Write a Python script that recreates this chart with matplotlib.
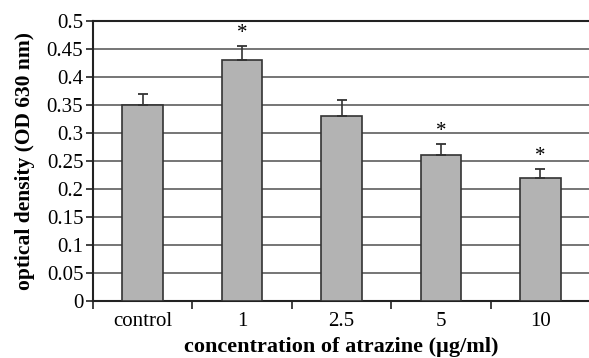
import matplotlib
matplotlib.use("Agg")
import matplotlib.pyplot as plt
import numpy as np

categories = ["control", "1", "2.5", "5", "10"]
values = [0.35, 0.43, 0.33, 0.26, 0.22]
errors = [0.02, 0.025, 0.028, 0.02, 0.015]
significant = [False, True, False, True, True]
yticks = [0, 0.05, 0.1, 0.15, 0.2, 0.25, 0.3, 0.35, 0.4, 0.45, 0.5]
ytick_labels = ["0", "0.05", "0.1", "0.15", "0.2", "0.25", "0.3", "0.35", "0.4", "0.45", "0.5"]

plt.rcParams['font.family'] = ['Liberation Serif', 'DejaVu Serif']

fig = plt.figure(figsize=(5.89, 3.58), dpi=100)
ax = fig.add_axes([93/589, 1 - 301/358, (590 - 93)/589, (301 - 20.7)/358])

x = np.arange(len(categories))
ax.set_axisbelow(True)
ax.yaxis.grid(True, color="#6a6a6a", linewidth=1.3)
ax.bar(x, values, width=0.41, color="#b3b3b3", edgecolor="#333333", linewidth=1.2, zorder=3)
ax.errorbar(x, values, yerr=[np.zeros(len(values)), errors], fmt="none",
            ecolor="#333333", elinewidth=1.2, capsize=3.5, capthick=1.3, zorder=4)
for xi, v, e, s in zip(x, values, errors, significant):
    if s:
        ax.text(xi, v + e + 0.005, "*", ha="center", va="bottom", fontsize=15)

ax.set_xlim(-0.5, 4.5)
ax.set_ylim(0, 0.5)
ax.set_yticks(yticks)
ax.set_yticklabels(ytick_labels, fontsize=15)
ax.set_xticks(x)
ax.set_xticklabels(categories, fontsize=15)
ax.tick_params(axis="x", length=0, pad=8)
ax.set_xticks(np.arange(-0.5, 4.6, 1), minor=True)
ax.tick_params(axis="x", which="minor", length=6, width=1.3, color="#333333", direction="out")
ax.tick_params(axis="y", length=5, width=1.3, color="#333333", direction="out", pad=2)

for side in ["left", "bottom", "top"]:
    ax.spines[side].set_color("#222222")
    ax.spines[side].set_linewidth(1.5)
ax.spines["right"].set_visible(False)

ax.set_ylabel("optical density (OD 630 nm)", fontsize=15.5, fontweight="bold")
ax.set_xlabel("concentration of atrazine (µg/ml)", fontsize=16, fontweight="bold", labelpad=4)
ax.yaxis.set_label_coords(-58/497, 0.5)

fig.savefig("out.png", dpi=100)
